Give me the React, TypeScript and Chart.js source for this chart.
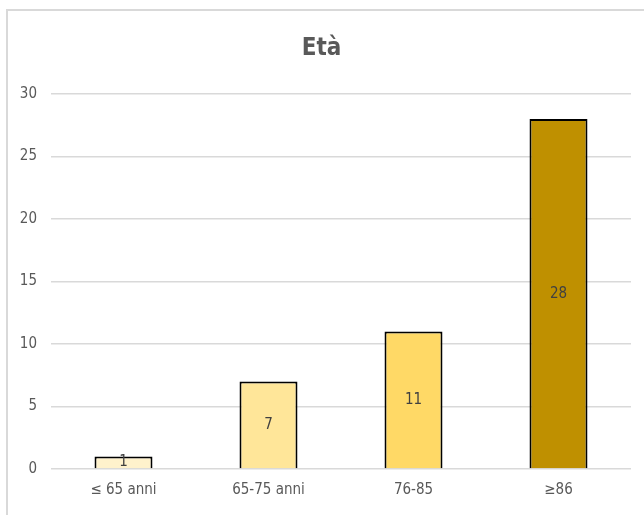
import React, { useEffect, useRef } from "react";
import { Chart, registerables } from "chart.js";

Chart.register(...registerables);

const categories = ["≤ 65 anni", "65-75 anni", "76-85", "≥86"];
const values = [1, 7, 11, 28];
const barColors = ["#FFF2CC", "#FFE699", "#FFD966", "#BF9000"];
const chartTitle = "Età";
const yMin = 0;
const yMax = 30;
const yStep = 5;

const FONT = '"Liberation Sans Narrow", "DejaVu Sans Condensed", "Open Sans", sans-serif';

const valueLabels = {
  id: "valueLabels",
  afterDatasetsDraw(chart: any) {
    const ctx = chart.ctx;
    const meta = chart.getDatasetMeta(0);
    ctx.save();
    ctx.font = `15px ${FONT}`;
    ctx.fillStyle = "#404040";
    ctx.textAlign = "center";
    ctx.textBaseline = "middle";
    meta.data.forEach((bar: any, i: number) => {
      const yc = (bar.y + bar.base) / 2;
      ctx.fillText(String(values[i]), bar.x, yc);
    });
    ctx.restore();
  },
};

export default function App() {
  const ref = useRef<HTMLCanvasElement>(null);
  useEffect(() => {
    if (!ref.current) return;
    const chart = new Chart(ref.current, {
      type: "bar",
      data: {
        labels: categories,
        datasets: [
          {
            data: values,
            backgroundColor: barColors,
            borderColor: "#000000",
            borderWidth: 2,
            barPercentage: 0.4,
            categoryPercentage: 1,
          },
        ],
      },
      options: {
        responsive: false,
        animation: false,
        layout: { padding: { left: 12, right: 13, top: 0, bottom: 0 } },
        plugins: {
          legend: { display: false },
          tooltip: { enabled: false },
          title: {
            display: true,
            text: chartTitle,
            color: "#595959",
            font: { family: FONT, size: 24, weight: "bold" },
            padding: { top: 34, bottom: 31.2 },
          },
        },
        scales: {
          x: {
            grid: { display: false, drawTicks: false },
            border: { display: false },
            ticks: { color: "#595959", font: { family: FONT, size: 15 }, padding: 12 },
            afterFit: (scale: any) => {
              scale.height = 46;
            },
          },
          y: {
            min: yMin,
            max: yMax,
            ticks: { stepSize: yStep, color: "#595959", font: { family: FONT, size: 15 }, padding: 14 },
            grid: { color: "#D9D9D9", lineWidth: 1.5, drawTicks: false },
            border: { display: false },
            afterFit: (scale: any) => {
              scale.width = 39;
            },
          },
        },
      },
      plugins: [valueLabels],
    });
    return () => chart.destroy();
  }, []);
  return (
    <div style={{ position: "absolute", left: 0, top: 0, width: 644, height: 515, background: "#fff", overflow: "hidden" }}>
      <div
        style={{
          position: "absolute",
          left: 6,
          top: 9,
          width: 660,
          height: 540,
          borderLeft: "2px solid #D9D9D9",
          borderTop: "2px solid #D9D9D9",
        }}
      />
      <canvas ref={ref} width={644} height={515} style={{ position: "absolute", left: 0, top: 0 }} />
    </div>
  );
}
